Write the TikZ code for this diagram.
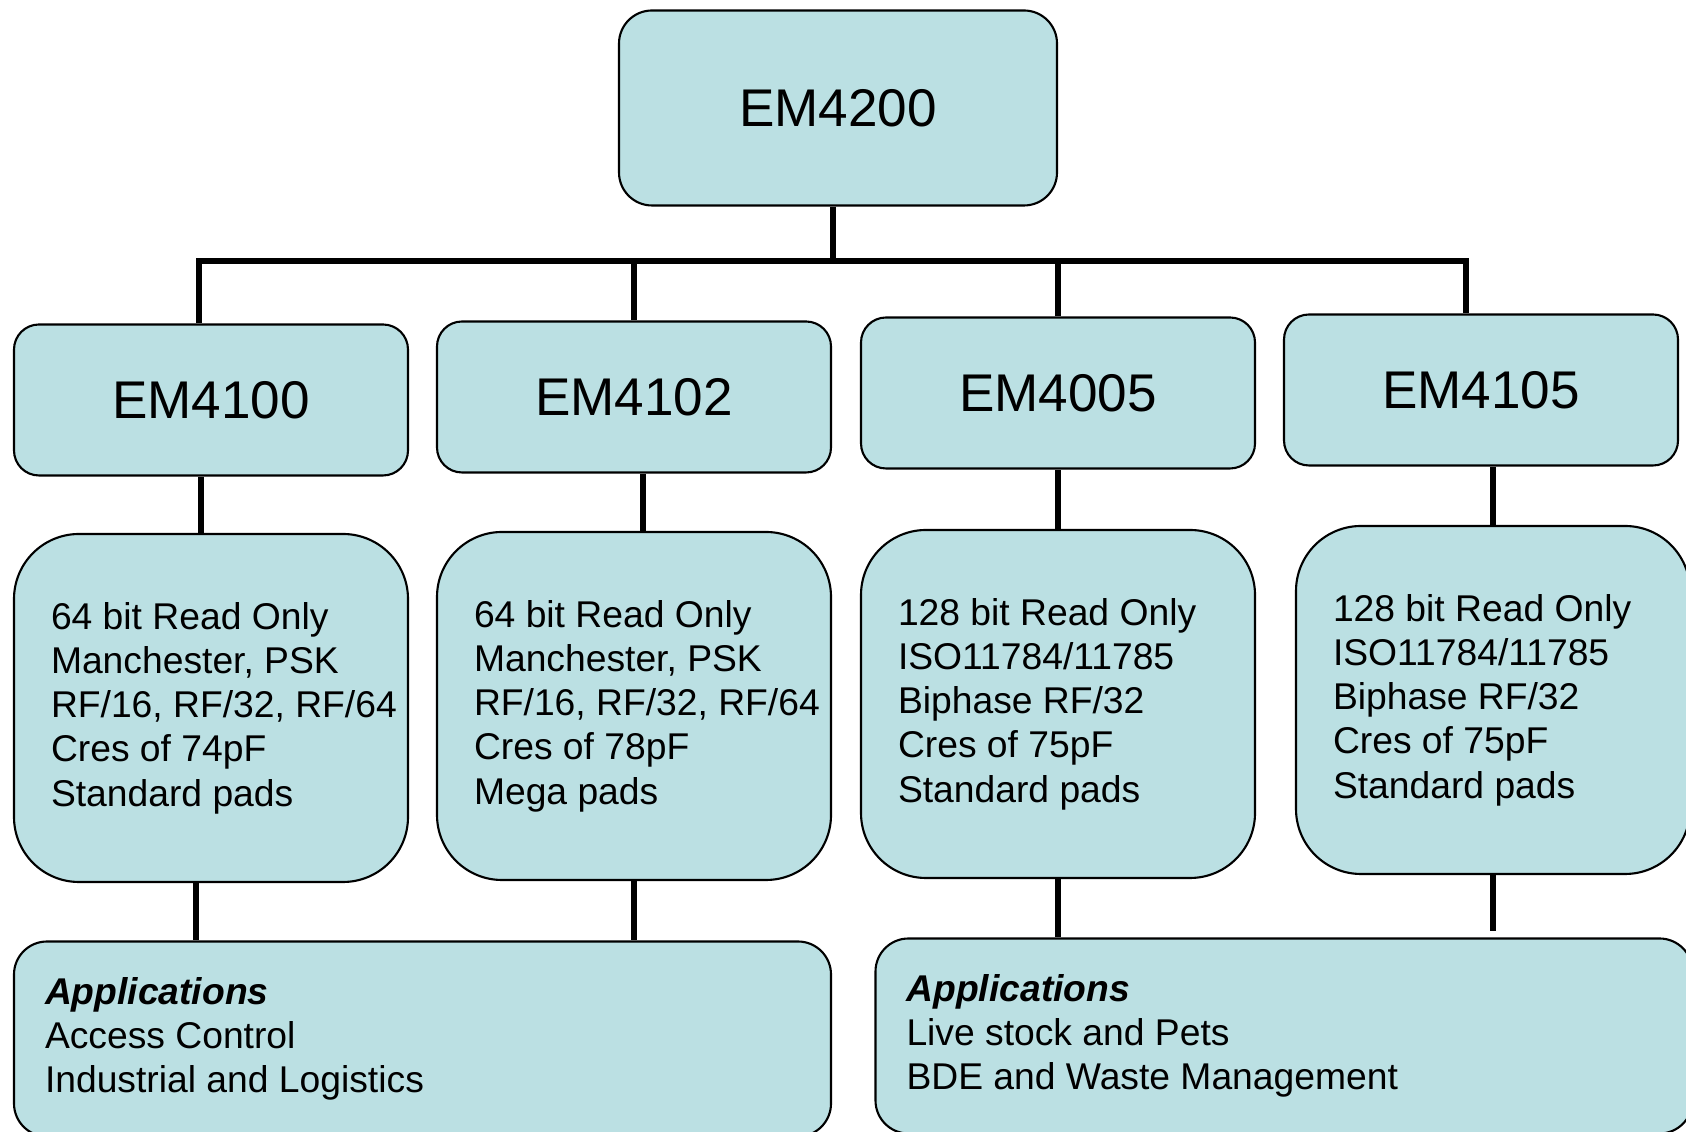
\documentclass[tikz,border=0pt]{standalone}
\usepackage{fontspec}
\setmainfont{Liberation Sans}
\usepackage{tikz}
\definecolor{chip-fill}{RGB}{187,224,227}

\begin{document}
\begin{tikzpicture}[
    chip/.style={draw, line width=0.6pt, fill=chip-fill, rounded corners=#1},
    chip/.default=0.25cm,
    part/.style={chip, minimum width=3.94cm, minimum height=1.51cm, font=\fontsize{15.1}{18}\selectfont},
    spec/.style={chip=0.65cm, minimum width=3.94cm, minimum height=3.48cm, text width=3.2cm, inner xsep=0.37cm, align=flush left, font=\fontsize{10.6}{12.6}\selectfont},
    apps/.style={chip=0.33cm, minimum width=8.17cm, minimum height=1.95cm, text width=7.55cm, inner xsep=0.31cm, align=flush left, font=\fontsize{10.6}{12.6}\selectfont},
    link/.style={line width=1.7pt}
  ]
  \useasboundingbox (0,0) rectangle (16.86,11.32);
  \clip (0,0) rectangle (16.86,11.32);

  % top chip
  \node[chip=0.33cm, minimum width=4.38cm, minimum height=1.95cm, font=\fontsize{15.1}{18}\selectfont] (em4200) at (8.38,10.24) {EM4200};

  % chip family
  \node[part] (em4100) at (2.11,7.32) {EM4100};
  \node[part] (em4102) at (6.34,7.35) {EM4102};
  \node[part] (em4005) at (10.58,7.39) {EM4005};
  \node[part] (em4105) at (14.81,7.42) {EM4105};

  % features
  \node[spec] (f4100) at (2.11,4.24) {64 bit Read Only\\Manchester, PSK\\\mbox{RF/16, RF/32, RF/64}\\Cres of 74pF\\Standard pads};
  \node[spec] (f4102) at (6.34,4.26) {64 bit Read Only\\Manchester, PSK\\\mbox{RF/16, RF/32, RF/64}\\Cres of 78pF\\Mega pads};
  \node[spec] (f4005) at (10.58,4.28) {128 bit Read Only\\ISO11784/11785\\Biphase RF/32\\Cres of 75pF\\Standard pads};
  \node[spec] (f4105) at (14.93,4.32) {128 bit Read Only\\ISO11784/11785\\Biphase RF/32\\Cres of 75pF\\Standard pads};

  % applications
  \node[apps] (app1) at (4.225,0.93) {\textbf{\textit{Applications}}\\Access Control\\Industrial and Logistics};
  \node[apps] (app2) at (12.84,0.96) {\textbf{\textit{Applications}}\\Live stock and Pets\\BDE and Waste Management};

  % tree lines
  \coordinate (bus) at (0,8.71);
  \draw[link] ([xshift=-0.05cm]em4200.south) -- ([xshift=-0.05cm]em4200.south |- bus);
  \draw[link] ([xshift=-0.12cm]em4100.north) |- ([xshift=-0.15cm]em4105.north |- bus) -- ([xshift=-0.15cm]em4105.north);
  \draw[link] (em4102.north) -- (em4102.north |- bus);
  \draw[link] (em4005.north) -- (em4005.north |- bus);

  \draw[link] ([xshift=-0.1cm]f4100.north) -- ([xshift=-0.1cm]f4100.north |- em4100.south);
  \draw[link] ([xshift=0.09cm]f4102.north) -- ([xshift=0.09cm]f4102.north |- em4102.south);
  \draw[link] (f4005.north) -- (f4005.north |- em4005.south);
  \draw[link] (f4105.north) -- (f4105.north |- em4105.south);

  \draw[link] ([xshift=-0.15cm]f4100.south) -- ([xshift=-0.15cm]f4100.south |- app1.north);
  \draw[link] (f4102.south) -- (f4102.south |- app1.north);
  \draw[link] (f4005.south) -- (f4005.south |- app2.north);
  \draw[link, shorten >=0.06cm] (f4105.south) -- (f4105.south |- app2.north);
\end{tikzpicture}
\end{document}
